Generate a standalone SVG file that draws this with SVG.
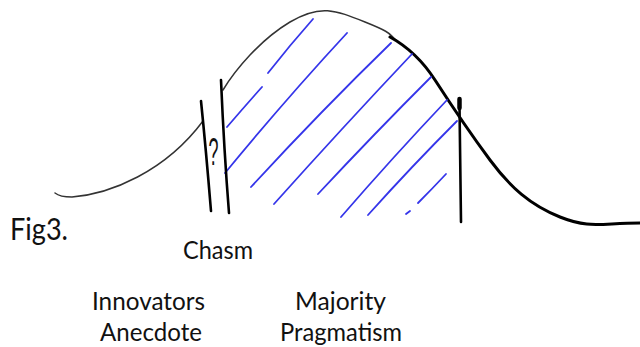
<svg xmlns="http://www.w3.org/2000/svg" width="640" height="347" viewBox="0 0 640 347">
<style>
.lbl{font-family:Lato,"Open Sans","Liberation Sans",sans-serif;font-size:25.5px;fill:#111}
.thin{fill:none;stroke:#333;stroke-width:1.5;stroke-linecap:round}
.thick{fill:none;stroke:#000;stroke-width:3;stroke-linecap:round;stroke-linejoin:round}
.bar{fill:none;stroke:#000;stroke-width:2.6;stroke-linecap:round}
.hatch{fill:none;stroke:#3535ea;stroke-width:1.8;stroke-linecap:round}
</style>
<rect width="640" height="347" fill="#fff"/>
<g id="curve">
<path class="thin" d="M55,193 Q60,197 72,197 C110,194 165,172 203,121"/>
<path class="thin" d="M223,90 C235,70 260,40 290,22 S335,10 365,22 S388,34 396,40"/>
<path class="thick" d="M390,37 C410,48 424,63 435,80 S470,133 490,160 S530,205 560,217 S600,223 640,223"/>
</g>
<g id="hatching">
<path class="hatch" d="M268,73 Q290,45 313,19"/>
<path class="hatch" d="M227,127 Q245,106 262,87"/>
<path class="hatch" d="M225,173 Q285,100 347,33"/>
<path class="hatch" d="M251,187 Q320,112 391,43"/>
<path class="hatch" d="M274,204 Q343,127 412,54"/>
<path class="hatch" d="M318,194 Q375,133 431,77"/>
<path class="hatch" d="M341,217 Q393,157 447,100"/>
<path class="hatch" d="M368,215 Q412,166 457,121"/>
<path class="hatch" d="M418,203 Q432,189 446,174"/>
<path class="hatch" d="M406,214 L410,211"/>
</g>
<g id="bars">
<path class="bar" d="M201,101 Q206,150 211,211"/>
<path class="bar" d="M221,80 Q224,150 229,213"/>
<path class="bar" d="M459.5,106 Q460,160 461,222"/>
<path class="bar" style="stroke-width:4.5" d="M459.5,99 L459.5,108"/>
<text x="208.5" y="165" style="font-family:'Liberation Sans',sans-serif;font-size:38px;fill:#111" textLength="10" lengthAdjust="spacingAndGlyphs">?</text>
</g>
<g id="labels">
<text class="lbl" x="10" y="240" style="font-size:30px" textLength="58" lengthAdjust="spacingAndGlyphs">Fig3.</text>
<text class="lbl" x="183" y="259" textLength="70" lengthAdjust="spacingAndGlyphs">Chasm</text>
<text class="lbl" x="92" y="310" textLength="113" lengthAdjust="spacingAndGlyphs">Innovators</text>
<text class="lbl" x="100" y="341" textLength="102" lengthAdjust="spacingAndGlyphs">Anecdote</text>
<text class="lbl" x="295" y="310" textLength="91" lengthAdjust="spacingAndGlyphs">Majority</text>
<text class="lbl" x="280" y="341" textLength="122" lengthAdjust="spacingAndGlyphs">Pragmatism</text>
</g>
</svg>
